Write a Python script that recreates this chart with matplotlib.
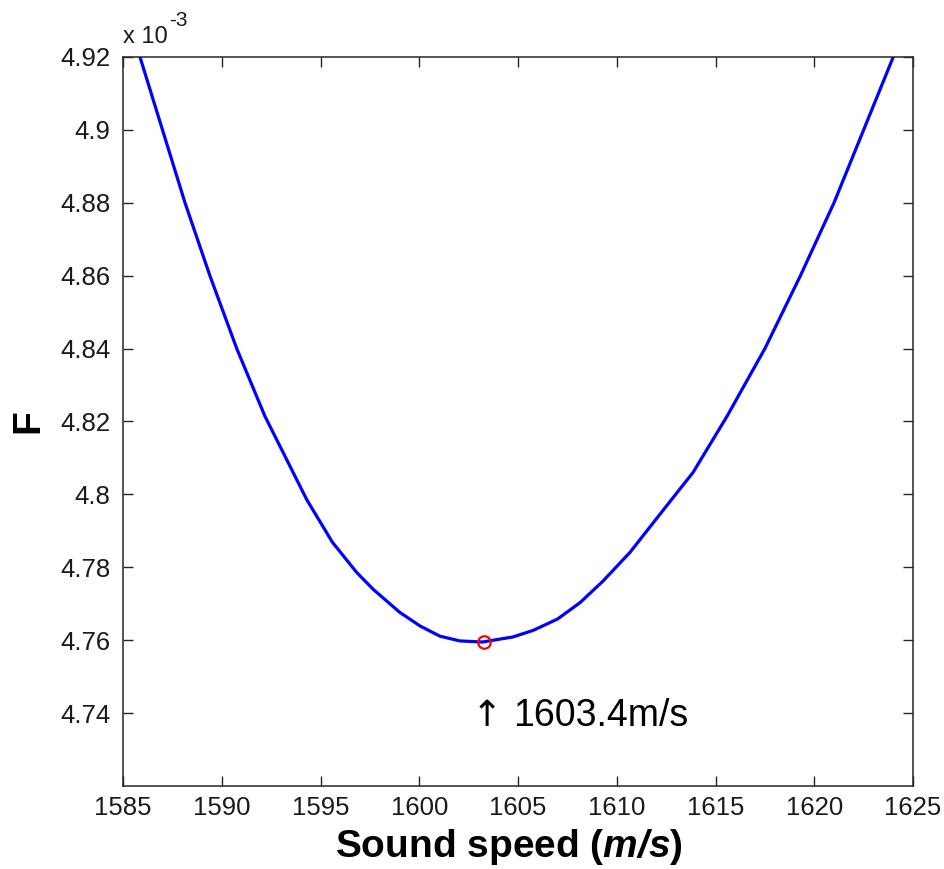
import matplotlib.pyplot as plt

plt.rcParams['font.family'] = ['Liberation Sans', 'DejaVu Sans']
plt.rcParams['mathtext.fontset'] = 'custom'
plt.rcParams['mathtext.rm'] = 'Liberation Sans'
plt.rcParams['mathtext.bfit'] = 'Liberation Sans:italic:bold'

# sound speed (m/s) and objective F (x 1e-3)
speed = [1585.86, 1587.0, 1588.14, 1589.4, 1590.76, 1592.19, 1592.95, 1594.3,
         1595.6, 1596.83, 1597.66, 1599.0, 1600.04, 1601.05, 1602.06, 1603.2,
         1604.75, 1605.77, 1607.0, 1608.14, 1609.3, 1610.67, 1612.5, 1613.86,
         1615.58, 1617.5, 1619.3, 1621.0, 1622.5, 1624.0]
F = [4.92, 4.90, 4.88, 4.86, 4.84, 4.8214, 4.8132, 4.7986,
     4.7869, 4.7786, 4.774, 4.7677, 4.7639, 4.7611, 4.7598, 4.7595,
     4.7609, 4.7627, 4.7658, 4.7703, 4.7762, 4.7841, 4.7967, 4.806,
     4.8214, 4.84, 4.86, 4.88, 4.90, 4.92]

best_speed = 1603.3
best_F = 4.7594

xticks = [1585, 1590, 1595, 1600, 1605, 1610, 1615, 1620, 1625]
yticks = [4.74, 4.76, 4.78, 4.80, 4.82, 4.84, 4.86, 4.88, 4.90, 4.92]
ytick_labels = ['4.74', '4.76', '4.78', '4.8', '4.82', '4.84', '4.86', '4.88', '4.9', '4.92']

fig = plt.figure(figsize=(9.45, 8.69), dpi=100)
ax = fig.add_axes([123 / 945, 83 / 869, 790 / 945, 729 / 869])

ax.plot(speed, F, color='#0000ff', lw=2.3, solid_joinstyle='round')
ax.plot([best_speed], [best_F], 'o', mfc='none', mec='#ff0000', mew=1.6, ms=9)

# annotation: arrow glyph + value
ax.text(1603.43, 4.7364, '\u2191', fontsize=26, ha='center', va='baseline',
        family=['DejaVu Sans'])
ax.text(1604.75, 4.7364, '1603.4m/s', fontsize=27, ha='left', va='baseline')

ax.set_xlim(1585, 1625)
ax.set_ylim(4.72, 4.92)
ax.set_xticks(xticks)
ax.set_xticklabels([str(t) for t in xticks])
ax.set_yticks(yticks)
ax.set_yticklabels(ytick_labels)
ax.tick_params(direction='in', length=7, width=1, top=True, right=True,
               labelsize=18.5, color='0.15', labelcolor='0.1')
ax.tick_params(axis='x', pad=7)
ax.tick_params(axis='y', pad=9)
for s in ax.spines.values():
    s.set_linewidth(1.1)
    s.set_color('0.15')

# MATLAB-style exponent above the y axis
ax.text(0.0, 1.019, 'x 10', transform=ax.transAxes, fontsize=17, ha='left', va='baseline', color='0.1')
ax.text(0.0585, 1.043, '-3', transform=ax.transAxes, fontsize=15, ha='left', va='baseline', color='0.1')

ax.set_xlabel(r'Sound speed ($\mathbfit{m/s}$)', fontsize=28, fontweight='bold')
ax.xaxis.label.set_va('center')
ax.xaxis.set_label_coords(0.489, -0.0837)
ax.set_ylabel('F', fontsize=28, fontweight='bold')
ax.yaxis.label.set_va('center')
ax.yaxis.set_label_coords(-0.120, 0.5)

plt.savefig('out.png', dpi=100)
